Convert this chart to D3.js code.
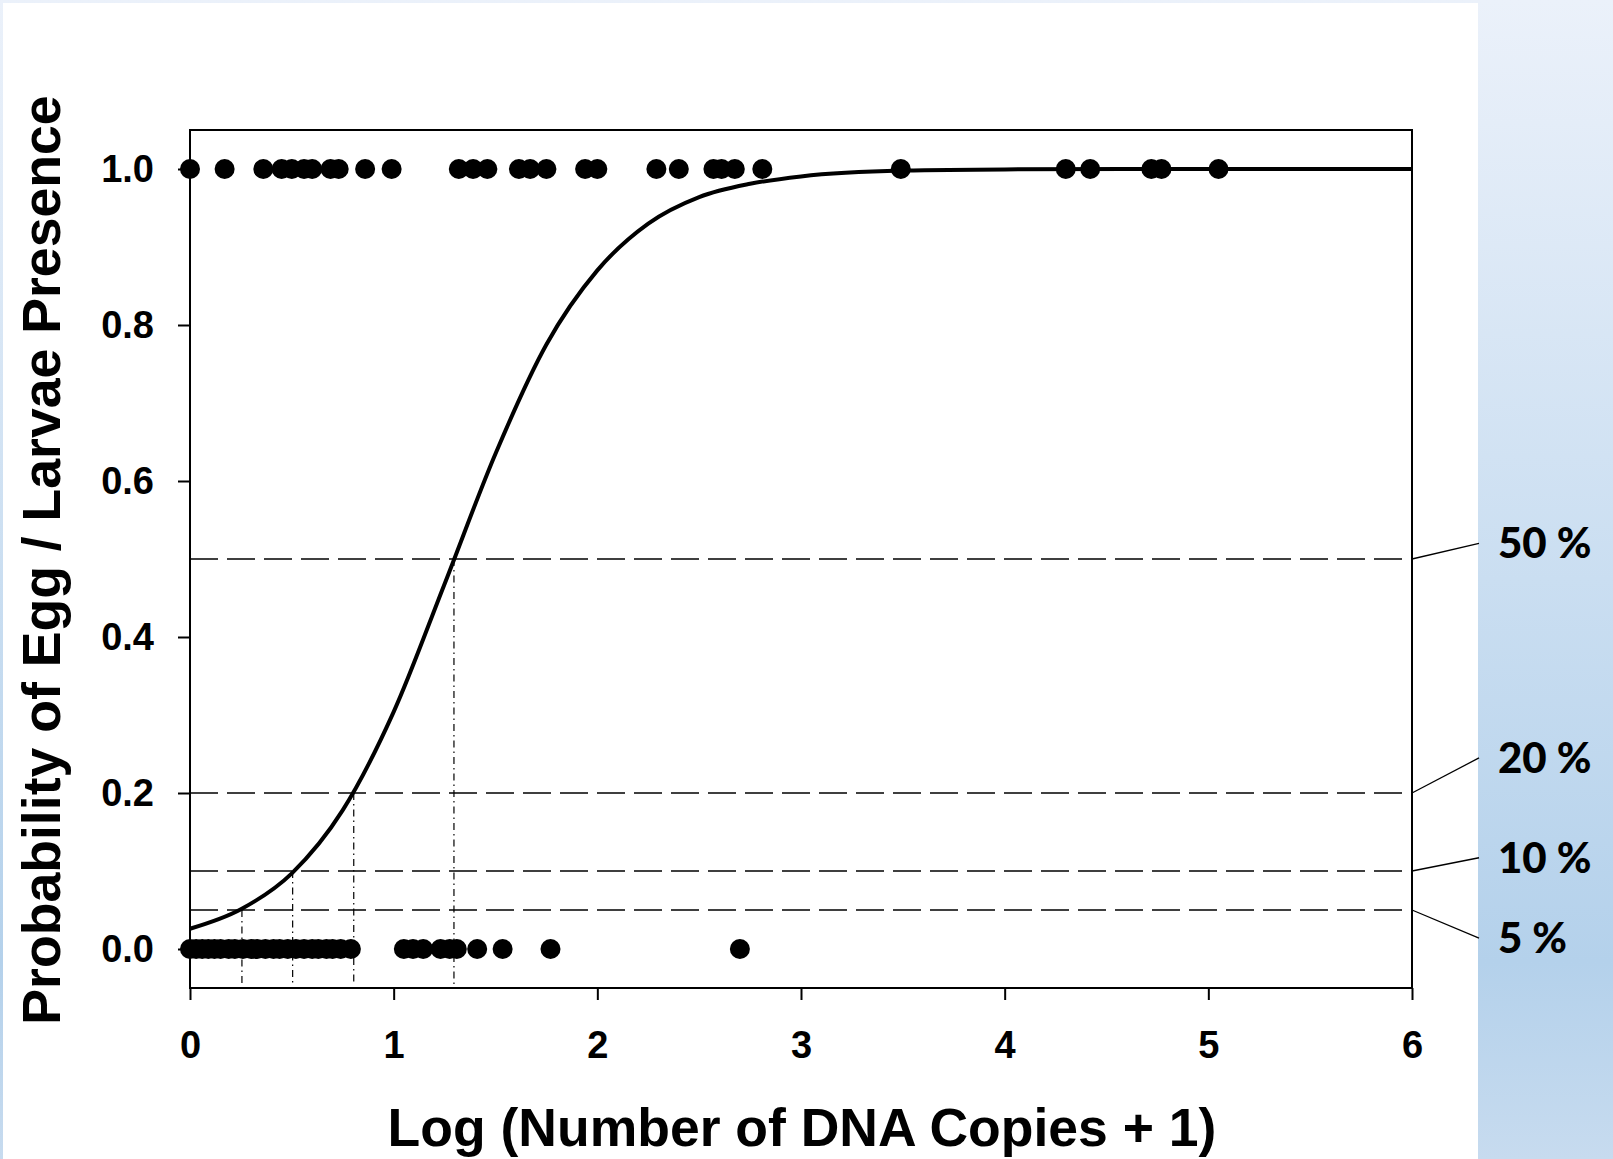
<!DOCTYPE html>
<html>
<head>
<meta charset="utf-8">
<script src="https://cdn.jsdelivr.net/npm/d3@7"></script>
<style>
  body { margin: 0; overflow: hidden; }
  text { font-family: "Liberation Sans", Arial, sans-serif; font-weight: bold; }
</style>
</head>
<body>
<svg id="chart" width="1613" height="1159"></svg>
<script>
// dots at probability 1 (presence observed)
let presentX = [0, 0.17, 0.36, 0.45, 0.50, 0.56, 0.60, 0.69, 0.73, 0.86, 0.99,
  1.32, 1.39, 1.46, 1.615, 1.67, 1.75, 1.94, 2.0, 2.29, 2.40, 2.57, 2.61, 2.675, 2.81,
  3.49, 4.30, 4.42, 4.72, 4.77, 5.05]

// dots at probability 0 (absence)
let absentX = [0, 0.03, 0.06, 0.09, 0.12, 0.15, 0.19, 0.22, 0.26, 0.30, 0.33, 0.37,
  0.41, 0.44, 0.48, 0.52, 0.56, 0.60, 0.63, 0.67, 0.70, 0.74, 0.79,
  1.05, 1.095, 1.145, 1.23, 1.275, 1.31, 1.41, 1.535, 1.77, 2.70]

// fitted curve
let curveX = [0, 0.25, 0.5, 0.75, 1.0, 1.25, 1.5, 1.75, 2.0, 2.25, 2.5, 2.75, 3.0, 3.5, 4.0, 5.0, 6.0]
let curveP = [0.026, 0.051, 0.097, 0.178, 0.304, 0.468, 0.635, 0.775, 0.870, 0.930, 0.964, 0.981, 0.9905, 0.998, 0.9995, 1.0, 1.0]

// probability thresholds and where the curve crosses them
let thresholds = [0.5, 0.2, 0.1, 0.05]
let thresholdX = [1.296, 0.804, 0.504, 0.255]
let thresholdLabels = ["50 %", "20 %", "10 %", "5 %"]
let labelP = [0.52, 0.245, 0.117, 0.014]

let xTicks = [0, 1, 2, 3, 4, 5, 6]
let yTicks = [0, 0.2, 0.4, 0.6, 0.8, 1.0]

let xTitle = "Log (Number of DNA Copies + 1)"
let yTitle = "Probability of Egg / Larvae Presence"

let W = 1613, H = 1159
let svg = d3.select("#chart")

// background
let defs = svg.append("defs")
let grad = defs.append("linearGradient").attr("id", "bg")
  .attr("x1", 0).attr("y1", 0).attr("x2", 0).attr("y2", 1)
grad.append("stop").attr("offset", "0").attr("stop-color", "#ebf1fa")
grad.append("stop").attr("offset", "0.5").attr("stop-color", "#cadef1")
grad.append("stop").attr("offset", "0.83").attr("stop-color", "#b4d1eb")
grad.append("stop").attr("offset", "1").attr("stop-color", "#c7dbef")

svg.append("rect").attr("width", W).attr("height", H).attr("fill", "url(#bg)")
svg.append("rect").attr("x", 3).attr("y", 3).attr("width", 1475).attr("height", H - 3).attr("fill", "#fff")

let x = d3.scaleLinear().domain([0, 6]).range([190, 1412])
let y = d3.scaleLinear().domain([-0.05, 1.05]).range([988, 130])

// horizontal dashed threshold lines
svg.selectAll(".hline").data(thresholds).enter()
  .append("line")
  .attr("class", "hline")
  .attr("x1", x(0)).attr("x2", x(6))
  .attr("y1", function(d) { return y(d) }).attr("y2", function(d) { return y(d) })
  .attr("stroke", "#000").attr("stroke-width", 1.5)
  .attr("stroke-dasharray", "28,9")

// vertical dash-dot drops
svg.selectAll(".vline").data(thresholds).enter()
  .append("line")
  .attr("class", "vline")
  .attr("x1", function(d, i) { return x(thresholdX[i]) })
  .attr("x2", function(d, i) { return x(thresholdX[i]) })
  .attr("y1", function(d) { return y(d) }).attr("y2", y(-0.045))
  .attr("stroke", "#000").attr("stroke-width", 1.2)
  .attr("stroke-dasharray", "7,4,1.5,4")

// frame
svg.append("rect")
  .attr("x", x(0)).attr("y", y(1.05))
  .attr("width", x(6) - x(0)).attr("height", y(-0.05) - y(1.05))
  .attr("fill", "none").attr("stroke", "#000").attr("stroke-width", 2)

// axes
let yAxis = svg.append("g").attr("transform", "translate(" + x(0) + ",0)")
  .call(d3.axisLeft(y).tickValues(yTicks).tickSize(12).tickPadding(24).tickFormat(d3.format(".1f")))
let xAxis = svg.append("g").attr("transform", "translate(0," + y(-0.05) + ")")
  .call(d3.axisBottom(x).tickValues(xTicks).tickSize(12).tickPadding(31).tickFormat(d3.format("d")))

;[yAxis, xAxis].forEach(function(a) {
  a.select(".domain").remove()
  a.selectAll(".tick line").attr("stroke", "#000").attr("stroke-width", 2)
  a.selectAll(".tick text").attr("fill", "#000")
    .style("font-family", "'Liberation Sans', Arial, sans-serif")
    .style("font-weight", "bold").style("font-size", "38px")
})

// fitted curve
let line = d3.line()
  .x(function(d) { return x(d[0]) })
  .y(function(d) { return y(d[1]) })
  .curve(d3.curveMonotoneX)
svg.append("path")
  .datum(curveX.map(function(d, i) { return [d, curveP[i]] }))
  .attr("d", line)
  .attr("fill", "none").attr("stroke", "#000").attr("stroke-width", 4)

// observation dots
svg.selectAll(".pres").data(presentX).enter()
  .append("circle").attr("class", "pres")
  .attr("cx", function(d) { return x(d) }).attr("cy", y(1)).attr("r", 10).attr("fill", "#000")
svg.selectAll(".abs").data(absentX).enter()
  .append("circle").attr("class", "abs")
  .attr("cx", function(d) { return x(d) }).attr("cy", y(0)).attr("r", 10).attr("fill", "#000")

// threshold labels with leader lines
svg.selectAll(".lead").data(thresholds).enter()
  .append("line").attr("class", "lead")
  .attr("x1", x(6)).attr("y1", function(d) { return y(d) })
  .attr("x2", 1479).attr("y2", function(d, i) { return y(labelP[i]) })
  .attr("stroke", "#000").attr("stroke-width", 1.3)
svg.selectAll(".plab").data(thresholdLabels).enter()
  .append("text").attr("class", "plab")
  .attr("x", 1498).attr("y", function(d, i) { return y(labelP[i]) + 15 })
  .style("font-family", "Lato, 'Open Sans', sans-serif")
  .style("font-size", "42px").style("font-weight", "900")
  .text(function(d) { return d })

// axis titles
svg.append("text")
  .attr("x", 802).attr("y", 1146)
  .attr("text-anchor", "middle")
  .style("font-size", "53.5px")
  .text(xTitle)
svg.append("text")
  .attr("transform", "translate(60,560) rotate(-90)")
  .attr("text-anchor", "middle")
  .style("font-size", "53.6px")
  .text(yTitle)
</script>
</body>
</html>
